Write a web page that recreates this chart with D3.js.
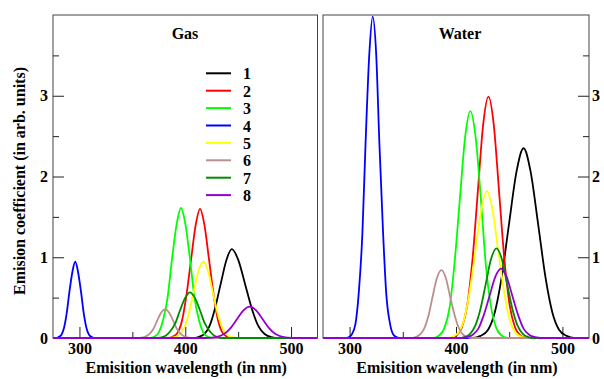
<!DOCTYPE html>
<html><head><meta charset="utf-8">
<script src="https://cdn.jsdelivr.net/npm/d3@7"></script>
<style>
body{margin:0;background:#fff}
svg text{font-family:"Liberation Serif","Times New Roman",serif;font-weight:bold}
</style>
</head><body>
<svg id="chart" width="604" height="379"></svg>
<script>
// ---------- data ----------
const seriesLabels = ["1","2","3","4","5","6","7","8"];
const seriesColors = ["#000000","#ff0000","#00ff00","#0000ff","#ffff00","#bc8f8f","#008b00","#9400d3"];
const xTicks = [300,400,500];
const xMinorTicks = [350,450];
const yTicks = [0,1,2,3];
const yMinorTicks = [0.5,1.5,2.5,3.5];

// Gas phase: [wavelength nm, emission coefficient]
const gas1 = [[407,0],[412.5,0.012],[418,0.048],[423,0.15],[428,0.36],[433.5,0.67],[439,0.97],[444,1.10],[450,0.97],[456.5,0.67],[463,0.36],[469,0.15],[475,0.05],[481.5,0.012],[488,0]];
const gas2 = [[384,0],[388.5,0.018],[393,0.07],[397,0.22],[401,0.52],[405.5,0.97],[410,1.41],[414,1.60],[418,1.41],[422.5,0.97],[427,0.52],[431,0.22],[435,0.07],[439.5,0.018],[444,0]];
const gas3 = [[366.5,0],[371,0.018],[375,0.07],[379,0.22],[383.5,0.52],[387.5,0.98],[392,1.42],[396,1.61],[400,1.42],[404.5,0.98],[408.5,0.52],[413,0.22],[417,0.07],[421,0.018],[425.5,0]];
const gas4 = [[277.5,0],[280,0.01],[283,0.04],[285.5,0.13],[288,0.31],[290.5,0.57],[293.5,0.83],[296,0.945],[298.5,0.83],[301.5,0.57],[304,0.31],[306.5,0.13],[309,0.04],[312,0.01],[314.5,0]];
const gas5 = [[385.5,0],[390,0.01],[394.5,0.04],[399,0.13],[403.5,0.31],[408,0.57],[412.5,0.83],[417,0.945],[421.5,0.83],[426,0.57],[430.5,0.31],[435,0.13],[439.5,0.04],[444,0.01],[448.5,0]];
const gas6 = [[355,0],[358.5,0.004],[362,0.016],[366,0.048],[370,0.115],[373.5,0.215],[377,0.31],[381,0.355],[385,0.31],[388.5,0.215],[392,0.115],[396,0.048],[400,0.016],[403.5,0.004],[407,0]];
const gas7 = [[371.5,0],[376.5,0.006],[381,0.025],[385.5,0.077],[390.5,0.18],[395,0.34],[400,0.50],[404.5,0.566],[409,0.50],[414,0.34],[418.5,0.18],[423.5,0.077],[428,0.025],[432.5,0.006],[437.5,0]];
const gas8 = [[419,0],[425,0.004],[431,0.017],[437,0.052],[443,0.126],[449,0.235],[455,0.342],[461,0.388],[467,0.342],[473,0.235],[479,0.126],[485,0.052],[491,0.017],[497,0.004],[503,0]];

// Water: [wavelength nm, emission coefficient]
const water1 = [[416,0],[423,0.026],[430,0.10],[436.5,0.32],[443,0.76],[450,1.43],[457,2.07],[463.5,2.35],[470,2.07],[477,1.43],[484,0.76],[490.5,0.32],[497,0.10],[504,0.026],[511,0]];
const water2 = [[395.5,0],[400.5,0.033],[405.5,0.13],[410.5,0.40],[415.5,0.97],[420.5,1.81],[425.5,2.64],[430.5,2.99],[435.5,2.64],[440.5,1.81],[445.5,0.97],[450.5,0.40],[455.5,0.13],[460.5,0.033],[465.5,0]];
const water3 = [[379,0],[384,0.031],[389,0.12],[394,0.38],[398.5,0.91],[403.5,1.70],[408.5,2.48],[413.5,2.81],[418.5,2.48],[423.5,1.70],[428,0.91],[433,0.38],[438,0.12],[443,0.031],[448,0]];
const water4 = [[296,0],[299,0.009],[302,0.044],[305.5,0.175],[308.5,0.54],[312,1.29],[315,2.41],[318.5,3.51],[321.7,3.98],[325,3.51],[328,2.41],[331.5,1.29],[334.5,0.54],[338,0.175],[341,0.044],[344.5,0.009],[347.5,0]];
const water5 = [[392,0],[397.5,0.02],[403,0.08],[408,0.25],[413,0.59],[418.5,1.10],[424,1.61],[429,1.82],[434,1.61],[439.5,1.10],[445,0.59],[450,0.25],[455,0.08],[460.5,0.02],[466,0]];
const water6 = [[357,0],[361.5,0.009],[365.5,0.037],[370,0.114],[374,0.27],[378,0.51],[382,0.74],[386.3,0.84],[390.5,0.74],[394.5,0.51],[399,0.27],[403,0.114],[407,0.037],[411,0.009],[415.5,0]];
const water7 = [[403,0],[408,0.012],[413,0.049],[418,0.15],[423,0.36],[428,0.67],[433,0.98],[438,1.11],[443,0.98],[448,0.67],[453,0.36],[458,0.15],[463,0.049],[468,0.012],[473,0]];
const water8 = [[405,0],[410,0.01],[415.5,0.038],[421,0.116],[426,0.28],[431.5,0.52],[437,0.76],[442.3,0.86],[447.5,0.76],[453,0.52],[458.5,0.28],[463.5,0.116],[469,0.038],[474.5,0.01],[480,0]];

const xDomain = [275,525];
const yDomain = [0,4];

// ---------- drawing ----------
const svg = d3.select("#chart");
const plotTop = 15, plotBottom = 338;
const FONT = 16;

const panels = [
  {title:"Gas", series:[gas1,gas2,gas3,gas4,gas5,gas6,gas7,gas8], x0:53, x1:317.5, yside:"left", titleX:185, legend:true},
  {title:"Water", series:[water1,water2,water3,water4,water5,water6,water7,water8], x0:323, x1:589, yside:"right", titleX:460, legend:false}
];

const y = d3.scaleLinear().domain(yDomain).range([plotBottom, plotTop]);

panels.forEach(p => {
  const x = d3.scaleLinear().domain(xDomain).range([p.x0, p.x1]);
  const g = svg.append("g");

  // frame
  g.append("rect").attr("x", p.x0).attr("y", plotTop)
    .attr("width", p.x1 - p.x0).attr("height", plotBottom - plotTop)
    .attr("fill", "none").attr("stroke", "#444").attr("stroke-width", 1);

  // x axis (inward ticks)
  const xa = g.append("g").attr("transform", `translate(0,${plotBottom})`)
    .call(d3.axisBottom(x).tickValues(xTicks).tickSize(-11).tickPadding(5).tickFormat(d3.format("d")));
  const xm = g.append("g").attr("transform", `translate(0,${plotBottom})`)
    .call(d3.axisBottom(x).tickValues(xMinorTicks).tickSize(-6).tickFormat(""));

  // y axis
  let ya, ym;
  if (p.yside === "left") {
    ya = g.append("g").attr("transform", `translate(${p.x0},0)`)
      .call(d3.axisLeft(y).tickValues(yTicks).tickSize(-11).tickPadding(5).tickFormat(d3.format("d")));
    ym = g.append("g").attr("transform", `translate(${p.x0},0)`)
      .call(d3.axisLeft(y).tickValues(yMinorTicks).tickSize(-6).tickFormat(""));
  } else {
    ya = g.append("g").attr("transform", `translate(${p.x1},0)`)
      .call(d3.axisRight(y).tickValues(yTicks).tickSize(-11).tickPadding(3).tickFormat(d3.format("d")));
    ym = g.append("g").attr("transform", `translate(${p.x1},0)`)
      .call(d3.axisRight(y).tickValues(yMinorTicks).tickSize(-6).tickFormat(""));
  }
  [xa, xm, ya, ym].forEach(a => {
    a.select(".domain").remove();
    a.attr("font-size", FONT).attr("font-family", null);
    a.selectAll("line").attr("stroke", "#222").attr("stroke-width", 1);
    a.selectAll("text").attr("fill", "#000");
  });

  // curves
  const line = d3.line().x(d => x(d[0])).y(d => y(d[1])).curve(d3.curveMonotoneX);
  p.series.forEach((s, i) => {
    const pts = [[xDomain[0], 0], ...s, [xDomain[1], 0]];
    g.append("path").datum(pts).attr("d", line)
      .attr("fill", "none").attr("stroke", seriesColors[i])
      .attr("stroke-width", 1.8).attr("stroke-linejoin", "round");
  });

  // title
  g.append("text").attr("x", p.titleX).attr("y", 38.5)
    .attr("text-anchor", "middle").attr("font-size", FONT).text(p.title);

  // x label
  g.append("text").attr("x", (p.x0 + p.x1) / 2 + 1).attr("y", 373)
    .attr("text-anchor", "middle").attr("font-size", FONT).text("Emisition wavelength (in nm)");

  // legend
  if (p.legend) {
    const lg = g.append("g");
    seriesLabels.forEach((lab, i) => {
      const ly = 73.3 + i * 17.4;
      lg.append("line").attr("x1", 206).attr("x2", 231).attr("y1", ly).attr("y2", ly)
        .attr("stroke", seriesColors[i]).attr("stroke-width", 2);
      lg.append("text").attr("x", 243).attr("y", ly + 6).attr("font-size", FONT).text(lab);
    });
  }
});

// y label
svg.append("text").attr("transform", "translate(25,181) rotate(-90)")
  .attr("text-anchor", "middle").attr("font-size", FONT)
  .text("Emision coefficient (in arb. units)");
</script>
</body></html>
